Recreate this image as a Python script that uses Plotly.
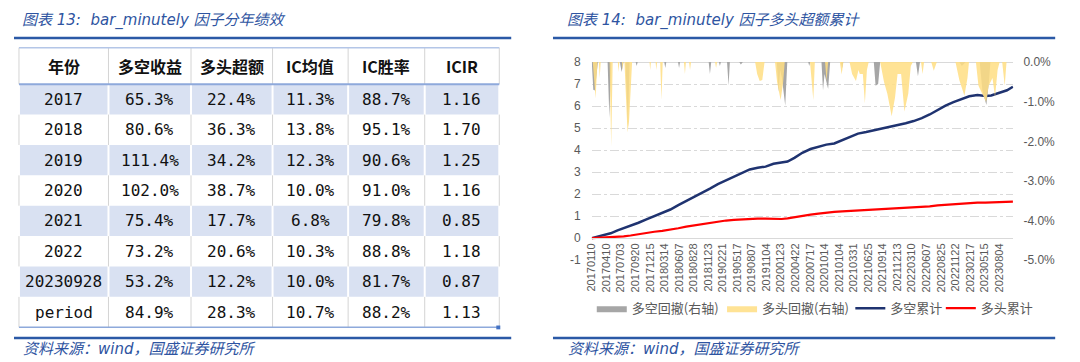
import plotly.graph_objects as go

# ---------------- table data ----------------
col_headers = ["年份", "多空收益", "多头超额", "IC均值", "IC胜率", "ICIR"]
years = ["2017", "2018", "2019", "2020", "2021", "2022", "20230928", "period"]
ls_return = [65.3, 80.6, 111.4, 102.0, 75.4, 73.2, 53.2, 84.9]
long_excess = [22.4, 36.3, 34.2, 38.7, 17.7, 20.6, 12.2, 28.3]
ic_mean = [11.3, 13.8, 12.3, 10.0, 6.8, 10.3, 10.0, 10.7]
ic_winrate = [88.7, 95.1, 90.6, 91.0, 79.8, 88.8, 81.7, 88.2]
icir = [1.16, 1.70, 1.25, 1.16, 0.85, 1.18, 0.87, 1.13]

# ---------------- chart data ----------------
tick_labels = ["20170110", "20170410", "20170703", "20170920", "20171215", "20180314",
               "20180607", "20180828", "20181123", "20190221", "20190517", "20190807",
               "20191104", "20200123", "20200422", "20200717", "20201014", "20210104",
               "20210331", "20210625", "20210914", "20211213", "20220310", "20220607",
               "20220825", "20221122", "20230217", "20230515", "20230804"]
days_per_tick = 57
n_days = 1652
left_ticks = [-1, 0, 1, 2, 3, 4, 5, 6, 7, 8]
right_ticks = [0, -1, -2, -3, -4, -5]

# cumulative curves (trading-day index, value)
curve_days = [0, 39, 74, 101, 125, 152, 183, 214, 245, 276, 308, 339, 370, 401, 432,
              463, 494, 526, 557, 588, 619, 650, 681, 712, 744, 767, 794, 825, 857, 888,
              919, 950, 981, 1012, 1043, 1075, 1106, 1137, 1168, 1199, 1230, 1261, 1293,
              1324, 1355, 1386, 1417, 1448, 1479, 1511, 1542, 1565, 1596, 1627, 1650]
ls_cum = [0.00, 0.10, 0.22, 0.35, 0.45, 0.55, 0.70, 0.85, 1.00, 1.15, 1.30, 1.50, 1.68,
          1.88, 2.05, 2.25, 2.45, 2.62, 2.80, 2.98, 3.12, 3.20, 3.25, 3.38, 3.45, 3.48,
          3.65, 3.88, 4.05, 4.15, 4.25, 4.30, 4.45, 4.62, 4.75, 4.82, 4.90, 4.98, 5.05,
          5.12, 5.22, 5.32, 5.45, 5.62, 5.82, 6.02, 6.18, 6.32, 6.45, 6.50, 6.46, 6.48,
          6.60, 6.72, 6.88]
long_cum = [0.00, 0.02, 0.04, 0.06, 0.08, 0.12, 0.18, 0.25, 0.29, 0.33, 0.38, 0.45, 0.52,
            0.58, 0.63, 0.70, 0.75, 0.80, 0.83, 0.86, 0.88, 0.89, 0.89, 0.88, 0.87, 0.90,
            0.96, 1.02, 1.07, 1.11, 1.16, 1.19, 1.22, 1.24, 1.26, 1.28, 1.30, 1.32, 1.34,
            1.35, 1.37, 1.38, 1.40, 1.44, 1.49, 1.52, 1.55, 1.57, 1.60, 1.61, 1.61, 1.62,
            1.63, 1.64, 1.66]

# drawdowns in % (right axis), as (trading-day index, drawdown)
ls_drawdown = [(0, 0), (6, -0.70), (12, -0.72), (18, -0.30), (24, 0),
               (62, 0), (69, -1.41), (76, 0),
               (110, 0), (117, -0.25), (124, 0),
               (132, 0), (138, -1.20), (142, -1.65), (148, 0),
               (172, 0), (176, -0.10), (180, 0),
               (284, 0), (288, -0.15), (292, 0),
               (338, 0), (342, -0.15), (346, 0),
               (458, 0), (463, -0.30), (468, 0),
               (498, 0), (502, -0.10), (506, 0),
               (530, 0), (536, -0.60), (541, 0),
               (578, 0), (584, -0.06), (592, 0),
               (725, 0), (732, -0.75), (738, -0.20), (745, -0.40), (758, -1.10), (766, 0),
               (848, 0), (852, -0.10), (856, 0),
               (900, 0), (906, -0.72), (912, -0.30), (926, -0.68), (934, 0),
               (977, 0), (981, -0.15), (985, 0),
               (1105, 0), (1112, -0.60), (1122, -0.55), (1130, 0),
               (1270, 0), (1278, -0.36), (1286, 0),
               (1440, 0), (1450, -0.10), (1465, 0),
               (1520, 0), (1530, -0.70), (1546, -1.08), (1556, -0.50), (1562, 0),
               (1650, 0)]
long_drawdown = [(0, 0), (4, 0), (15, -0.92), (22, 0),
                 (28, 0), (31, -0.40), (35, 0),
                 (70, 0), (76, -2.14), (82, 0),
                 (102, 0), (105, -0.25), (108, 0),
                 (118, 0), (121, -0.20), (124, 0),
                 (128, 0), (134, -0.90), (140, -1.77), (146, -1.50), (152, -0.80), (158, 0),
                 (226, 0), (229, -0.20), (232, 0),
                 (250, 0), (253, -0.20), (256, 0),
                 (268, 0), (273, -0.96), (278, 0),
                 (361, 0), (365, -0.30), (369, 0),
                 (381, 0), (385, -0.20), (389, 0),
                 (483, 0), (487, -0.15), (491, 0),
                 (640, 0), (648, -0.30), (658, -0.48), (668, -0.45), (677, 0),
                 (718, 0), (726, -0.50), (740, -0.96), (750, -0.50), (756, 0),
                 (855, 0), (862, -0.50), (868, -0.96), (874, 0),
                 (914, 0), (920, -0.48), (926, 0),
                 (972, 0), (979, -0.31), (986, 0),
                 (1010, 0), (1020, -0.30), (1035, -0.48), (1045, -0.20), (1050, -0.30),
                 (1062, -0.30), (1070, -1.04), (1078, -0.20), (1085, 0),
                 (1130, 0), (1145, -0.50), (1158, -0.80), (1175, -1.37), (1188, -0.90),
                 (1198, -0.30), (1212, -0.30), (1225, -1.25), (1240, -0.80), (1250, -0.10),
                 (1258, 0),
                 (1290, 0), (1296, -0.30), (1302, 0),
                 (1330, 0), (1340, -0.22), (1352, 0),
                 (1425, 0), (1440, -0.45), (1460, -0.85), (1472, -0.40), (1478, 0),
                 (1505, 0), (1515, -0.60), (1530, -0.80), (1545, -1.00), (1555, -0.60),
                 (1570, -0.40), (1580, -0.88), (1590, -0.20), (1598, 0),
                 (1608, 0), (1618, -0.60), (1625, 0),
                 (1650, 0)]

# ---------------- layout helpers ----------------
OFF = 8                 # default body margin of the html page shifts the figure
LW, LH = 1080, 362

BLUE_TXT = "#2E54A1"
RULE = "#2B59A6"
GRID = "#D9D9D9"
TICK = "#595959"
ROW_BLUE = "#D9E1F2"
CELL_LINE = "#D4D4D4"


def px_x(p):
    return (p - OFF) / LW


def px_y(p):
    return 1 - (p - OFF) / LH


fig = go.Figure()

# ---------------- chart traces ----------------
fig.add_trace(go.Scatter(
    x=[d for d, _ in ls_drawdown], y=[v for _, v in ls_drawdown],
    name="多空回撤(右轴)", yaxis="y2", mode="lines", fill="tozeroy",
    line=dict(width=0, color="#A6A6A6"), fillcolor="#A6A6A6", legend="legend",
))
fig.add_trace(go.Scatter(
    x=[d for d, _ in long_drawdown], y=[v for _, v in long_drawdown],
    name="多头回撤(右轴)", yaxis="y2", mode="lines", fill="tozeroy",
    line=dict(width=0, color="#FFE08F"), fillcolor="rgba(255,222,130,0.85)", legend="legend2",
))
fig.add_trace(go.Scatter(
    x=curve_days, y=ls_cum, name="多空累计", mode="lines",
    line=dict(color="#1F3370", width=2.5), legend="legend3",
))
fig.add_trace(go.Scatter(
    x=curve_days, y=long_cum, name="多头累计", mode="lines",
    line=dict(color="#FF0000", width=2.2), legend="legend4",
))

legend_font = dict(family="Noto Sans CJK SC", size=13, color=TICK)
legends = {}
for key, box_x in [("legend", 597), ("legend2", 728), ("legend3", 857), ("legend4", 948)]:
    legends[key] = dict(orientation="h", x=px_x(box_x - 8), xanchor="left",
                        y=px_y(313), yanchor="middle", font=legend_font,
                        itemwidth=30, bgcolor="rgba(0,0,0,0)")

fig.update_layout(
    width=LW, height=LH,
    margin=dict(l=0, r=0, t=0, b=0),
    paper_bgcolor="white", plot_bgcolor="white",
    font=dict(family="Liberation Sans", color=TICK, size=11),
    xaxis=dict(
        domain=[px_x(589), px_x(1013)],
        range=[0, n_days],
        tickmode="array",
        tickvals=[i * days_per_tick for i in range(len(tick_labels))],
        ticktext=tick_labels,
        tickangle=-90,
        tickfont=dict(size=11, color=TICK, family="Liberation Sans"),
        showgrid=False, zeroline=False,
        showline=True, linecolor=GRID, linewidth=1,
        anchor="free", position=px_y(240),
        ticks="",
    ),
    yaxis=dict(
        domain=[px_y(263), px_y(57)],
        range=[-1, 8],
        tickmode="array", tickvals=left_ticks, ticktext=["%d" % v for v in left_ticks],
        showgrid=True, gridcolor=GRID, griddash="dashdot", gridwidth=1,
        zeroline=False, showline=False,
        tickfont=dict(size=12, color=TICK),
        ticklabelstandoff=10,
    ),
    yaxis2=dict(
        overlaying="y", side="right", anchor="x",
        range=[-5, 0],
        tickmode="array", tickvals=right_ticks, ticktext=["%.1f%%" % v for v in right_ticks],
        showgrid=False, zeroline=True, zerolinecolor=GRID, zerolinewidth=1,
        tickfont=dict(size=12, color=TICK),
        ticklabelstandoff=9,
    ),
    showlegend=True,
    **legends,
)

# ---------------- table (drawn with shapes + text) ----------------
col_edges = [13, 103, 186, 268, 344, 421, 496]
header_top, header_bot = 42, 80
row_h = 31.6
row_edges = [header_bot + i * row_h for i in range(len(years) + 1)]

cell_text = [years,
             ["%.1f%%" % v for v in ls_return],
             ["%.1f%%" % v for v in long_excess],
             ["%.1f%%" % v for v in ic_mean],
             ["%.1f%%" % v for v in ic_winrate],
             ["%.2f" % v for v in icir]]

for r in range(len(years)):
    y0, y1 = row_edges[r], row_edges[r + 1]
    if r % 2 == 0:
        for c in range(len(col_headers)):
            fig.add_shape(type="rect", xref="paper", yref="paper",
                          x0=px_x(col_edges[c] + 1), x1=px_x(col_edges[c + 1] - 1),
                          y0=px_y(y1), y1=px_y(y0), line=dict(width=0), fillcolor=ROW_BLUE,
                          layer="below")
    else:
        for xe in col_edges:
            fig.add_shape(type="line", xref="paper", yref="paper", x0=px_x(xe), x1=px_x(xe),
                          y0=px_y(y0), y1=px_y(y1), line=dict(color=CELL_LINE, width=1))
for xe in col_edges:
    fig.add_shape(type="line", xref="paper", yref="paper", x0=px_x(xe), x1=px_x(xe),
                  y0=px_y(header_top), y1=px_y(header_bot), line=dict(color=CELL_LINE, width=1))

for c, h in enumerate(col_headers):
    xc = (col_edges[c] + col_edges[c + 1]) / 2
    fig.add_annotation(x=px_x(xc), y=px_y((header_top + header_bot) / 2), xref="paper", yref="paper",
                       text="<b>%s</b>" % h, showarrow=False, xanchor="center", yanchor="middle",
                       font=dict(family="Noto Sans CJK SC", size=16, color="#111111"))
    for r in range(len(years)):
        yc = (row_edges[r] + row_edges[r + 1]) / 2
        fig.add_annotation(x=px_x(xc), y=px_y(yc), xref="paper", yref="paper",
                           text=cell_text[c][r], showarrow=False, xanchor="center", yanchor="middle",
                           font=dict(family="DejaVu Sans Mono", size=16, color="#111111"))

fig.add_shape(type="line", xref="paper", yref="paper", x0=px_x(13), x1=px_x(496),
              y0=px_y(header_top), y1=px_y(header_top), line=dict(color="#B4C6E7", width=1.5))
fig.add_shape(type="line", xref="paper", yref="paper", x0=px_x(13), x1=px_x(496),
              y0=px_y(header_bot), y1=px_y(header_bot), line=dict(color="#8EA9DB", width=2))
fig.add_shape(type="line", xref="paper", yref="paper", x0=px_x(13), x1=px_x(496),
              y0=px_y(row_edges[-1]), y1=px_y(row_edges[-1]), line=dict(color="#8EA9DB", width=1.5))
fig.add_shape(type="rect", xref="paper", yref="paper", x0=px_x(493), x1=px_x(497),
              y0=px_y(335), y1=px_y(331), line=dict(width=0), fillcolor="#4472C4")

# ---------------- titles, sources, rules ----------------
title_font = dict(family="DejaVu Sans, Noto Sans CJK SC", size=15, color=BLUE_TXT)
for x0, txt in [(14, "图表 13:  bar_minutely 因子分年绩效"), (562, "图表 14:  bar_minutely 因子多头超额累计")]:
    fig.add_annotation(x=px_x(x0), y=px_y(14), xref="paper", yref="paper", text="<i>%s</i>" % txt,
                       showarrow=False, xanchor="left", yanchor="middle", font=title_font)
for x0 in [15, 563]:
    fig.add_annotation(x=px_x(x0), y=px_y(355), xref="paper", yref="paper",
                       text="<i>资料来源：wind，国盛证券研究所</i>",
                       showarrow=False, xanchor="left", yanchor="middle", font=title_font)

for (a, b) in [(8, 508), (550, 1055)]:
    for yy in (32, 344):
        fig.add_shape(type="line", xref="paper", yref="paper", x0=px_x(a), x1=px_x(b),
                      y0=px_y(yy), y1=px_y(yy), line=dict(color=RULE, width=2.5))

fig.write_html("out.html")
